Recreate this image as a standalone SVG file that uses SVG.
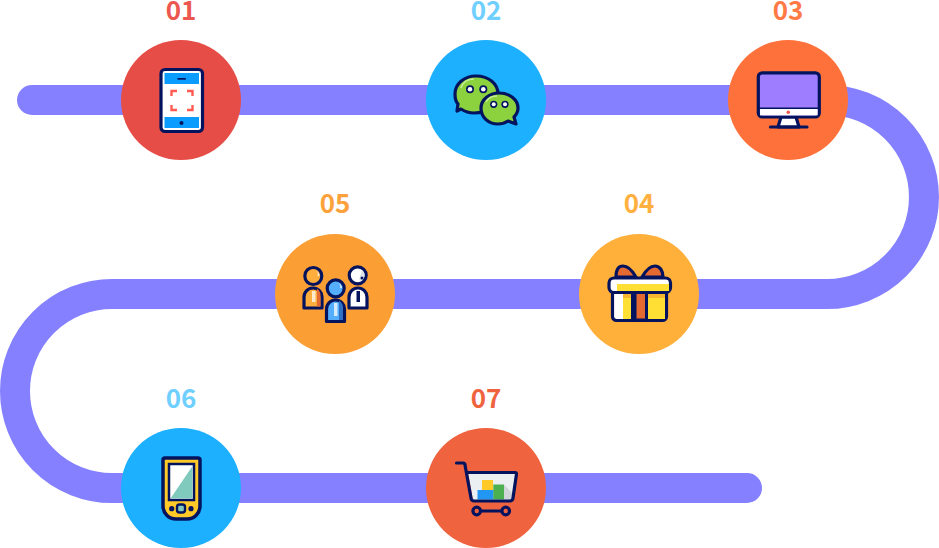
<svg xmlns="http://www.w3.org/2000/svg" width="939" height="548" viewBox="0 0 939 548">
<style>
.t{font-family:"Noto Sans CJK SC","Noto Sans",sans-serif;font-size:26px;font-weight:700;text-anchor:middle}
.n{stroke:#03135e;stroke-width:3.200;stroke-linejoin:round;stroke-linecap:round}
.f{fill:#03135e}
.w{fill:#fff}
.h{fill:#fff;opacity:.75}
</style>
<rect width="939" height="548" fill="#fff"/>
<g id="connectors"><path d="M32 100H827A97 97 0 0 1 827 294H112A97 97 0 0 0 112 488H747" fill="none" stroke="#8480ff" stroke-width="30" stroke-linecap="round"/></g>
<g id="node-01">
<circle cx="181" cy="100" r="60" fill="#e64d47"/>
<text class="t" x="181" y="19.500" fill="#ec5850">01</text>
<rect x="161" y="69.500" width="41.500" height="62" rx="4" class="n w"/>
<rect x="164.500" y="73" width="34.500" height="11" fill="#0a9cff"/><rect x="164.500" y="117" width="34.500" height="11" fill="#0a9cff"/>
<rect x="177.500" y="78" width="8.300" height="1.700" class="f"/>
<circle cx="181.500" cy="123" r="2" class="f"/>
<path d="M171.500 96V91H177M187 91H192.500V96M192.500 105V110H187M177 110H171.500V105" fill="none" stroke="#ff5b52" stroke-width="2.400"/>
</g>
<g id="node-02">
<circle cx="486" cy="100" r="60" fill="#1cb0ff"/>
<text class="t" x="486" y="19.500" fill="#6fcfff">02</text>
<path d="M476 76C489 76 498 84 498 94C498 105 488 113 474 113C469 113 464 111 461 109L457 111L458 104C455 101 455 98 455 94C455 84 464 76 476 76Z" class="n" fill="#8bd23e"/>
<path d="M499 93C510 93 518 100 518 108C518 112 516 115 514 117L516 124L508 121C505 123 502 124 498 124C488 124 481 117 481 108C481 100 489 93 499 93Z" class="n" fill="#8bd23e"/>
<path d="M461 88C463 82 468 79 474 79" fill="none" stroke="#c8ee96" stroke-width="1.500"/>
<path d="M486 102C488 98 492 96 497 96" fill="none" stroke="#c8ee96" stroke-width="1.500"/>
<g class="f"><circle cx="470" cy="89.300" r="4"/><circle cx="483.300" cy="89.300" r="4"/><circle cx="493.700" cy="104.300" r="3.600"/><circle cx="505" cy="104.300" r="3.600"/></g>
<g class="w"><circle cx="470" cy="89.300" r="2.300"/><circle cx="483.300" cy="89.300" r="2.300"/><circle cx="493.700" cy="104.300" r="2"/><circle cx="505" cy="104.300" r="2"/></g>
</g>
<g id="node-03">
<circle cx="788" cy="100" r="60" fill="#ff713a"/>
<text class="t" x="788" y="19.500" fill="#ff7a45">03</text>
<path d="M781 117L778 127H799L796 117Z" class="n w"/>
<rect x="758.300" y="72.800" width="61" height="44.200" rx="4" class="n" fill="#9f7dff"/>
<rect x="760" y="109" width="57.600" height="6.400" class="w"/>
<path d="M758 108.300H819" stroke="#03135e" stroke-width="1.500" fill="none"/>
<circle cx="788.300" cy="112.300" r="1.700" fill="#f05545"/>
<path d="M770.500 127H807" class="n" fill="none"/>
</g>
<g id="node-04">
<circle cx="639" cy="294" r="60" fill="#ffb03a"/>
<text class="t" x="639" y="213" fill="#ffb040">04</text>
<path d="M636 277C632 270 628 266 623 266C618 266 616 271 616 277ZM642 277C646 270 650 266 655 266C660 266 663 271 663 277Z" class="n" fill="#e56a32"/>
<rect x="612.500" y="290" width="54" height="30.500" rx="4" class="n w"/>
<rect x="623" y="293" width="42" height="26" fill="#ffdf33"/>
<rect x="623" y="293" width="42" height="5" fill="#f4b72f"/>
<rect x="632.500" y="292" width="14" height="28" fill="#e56a32" stroke="#03135e" stroke-width="3"/>
<rect x="633" y="292" width="3.500" height="27" class="f"/>
<rect x="609" y="278" width="61.500" height="14.500" rx="5" class="n w"/>
<rect x="617" y="284" width="52" height="7" fill="#ffdf33"/>
</g>
<g id="node-05">
<circle cx="335" cy="294" r="60" fill="#fb9f35"/>
<text class="t" x="335" y="213" fill="#fca23c">05</text>
<path d="M304 308V297A9 9 0 0 1 322 297V308Z" class="n" fill="#ffad3d"/>
<path d="M317 288.500A9 9 0 0 1 320.500 297V306.500H317Z" fill="#e56a32"/>
<rect x="312" y="291" width="3.500" height="11" class="h"/>
<circle cx="313.300" cy="276" r="8.500" class="n" fill="#ffad3d"/>
<path d="M316 270.500A6.500 6.500 0 0 1 319.500 276H317.500A5 5 0 0 0 316 270.500Z" class="h"/>
<path d="M326.500 321.500V309A9 9 0 0 1 344.500 309V321.500Z" class="n" fill="#55aefc"/>
<path d="M339 300.500A9 9 0 0 1 343 309V320H339Z" fill="#2f6fc4"/>
<rect x="334" y="303" width="3.500" height="13" class="h"/>
<circle cx="335.700" cy="288.300" r="8.500" class="n" fill="#55aefc"/>
<path d="M338 282.500A6.500 6.500 0 0 1 342 288H340A5 5 0 0 0 338 282.500Z" class="h"/>
<path d="M349 308V297A9 9 0 0 1 367 297V308Z" class="n w"/>
<rect x="356.500" y="291" width="3.500" height="11" class="f"/>
<circle cx="357.700" cy="275.300" r="8.500" class="n w"/>
<path d="M362 270A7 7 0 0 1 364.500 276.500A7 7 0 0 1 360 281C358.500 278 361 274 362 270Z" fill="#dde3ea"/>
<circle cx="362" cy="278" r="1.500" class="f"/>
</g>
<g id="node-06">
<circle cx="181" cy="488" r="60" fill="#1cb0ff"/>
<text class="t" x="181" y="407.500" fill="#6fcfff">06</text>
<path d="M163 460A2 2 0 0 1 165 458H198A2 2 0 0 1 200 460V506A13 13 0 0 1 187 519H176A13 13 0 0 1 163 506Z" class="n" fill="#ffc928" style="stroke-width:3.500"/>
<rect x="169" y="464" width="25" height="36" class="w" stroke="#03135e" stroke-width="2.500"/>
<path d="M170.500 498.500L192.500 466V498.500Z" fill="#7fcabd"/>
<circle cx="171.700" cy="508.700" r="2.600" class="f"/><circle cx="191" cy="508.700" r="2.600" class="f"/>
<rect x="177" y="504.500" width="8" height="8" rx="2.500" fill="#7fcabd" stroke="#03135e" stroke-width="2.400"/>
</g>
<g id="node-07">
<circle cx="486" cy="488" r="60" fill="#f0633f"/>
<text class="t" x="486" y="407.500" fill="#f0633f">07</text>
<path d="M468 472.500H516L512.500 500H473Z" fill="#eceff1"/>
<path d="M504 484.500L513 494L512.500 500H504Z" fill="#cfd5d8"/>
<rect x="482" y="480" width="11" height="10" fill="#ffc928"/>
<rect x="477.500" y="490" width="16" height="9.500" fill="#2196f3"/>
<rect x="493.300" y="484.500" width="10.700" height="15" fill="#4caf50"/>
<path d="M456.500 463H463A2 2 0 0 1 465 465L471 498A3 3 0 0 0 474 501H510A3 3 0 0 0 513 498L516.500 474A1.500 1.500 0 0 0 515 472.500H467M476.700 511H505.700" class="n" fill="none"/>
<circle cx="476.700" cy="511" r="3.800" class="n" fill="#f0633f"/>
<circle cx="505.700" cy="511" r="3.800" class="n" fill="#f0633f"/>
</g>
</svg>
